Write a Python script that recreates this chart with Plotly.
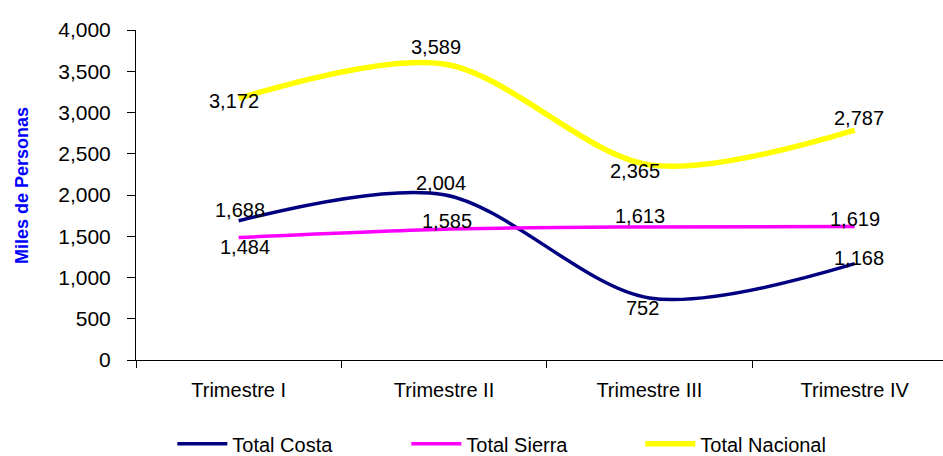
import plotly.graph_objects as go

categories = ["Trimestre I", "Trimestre II", "Trimestre III", "Trimestre IV"]
costa = [1688, 2004, 752, 1168]
sierra = [1484, 1585, 1613, 1619]
nacional = [3172, 3589, 2365, 2787]

# label offsets (pixels) relative to each point: (dx, dy up)
costa_off = [(1, 11), (-3, 12), (-7, -10), (4, 6)]
sierra_off = [(6, -9), (3, 8), (-9, 11), (0, 7)]
nacional_off = [(-5, -3), (-8, 17), (-14, -6), (4, 12)]

FONT = "Liberation Sans, Arial"

fig = go.Figure()
series = [
    ("Total Costa", costa, "#000080", 3.5, costa_off),
    ("Total Sierra", sierra, "#FF00FF", 3.5, sierra_off),
    ("Total Nacional", nacional, "#FFFF00", 5.5, nacional_off),
]
for name, vals, color, w, offs in series:
    fig.add_trace(go.Scatter(
        x=categories, y=vals, name=name, mode="lines",
        line=dict(color=color, width=w, shape="spline", smoothing=0.9),
    ))
    for c, v, (dx, dy) in zip(categories, vals, offs):
        fig.add_annotation(x=c, y=v, text=f"{v:,}", showarrow=False,
                           xshift=dx, yshift=dy,
                           font=dict(family=FONT, size=20, color="black"))

fig.add_annotation(x=0, y=0.527, xref="paper", yref="paper", xshift=-114,
                   xanchor="center", yanchor="middle",
                   text="<b>Miles de Personas</b>", textangle=-90, showarrow=False,
                   font=dict(family=FONT, size=18, color="#0000FF"))

fig.update_layout(
    width=943, height=456,
    margin=dict(l=136, r=0, t=30, b=96, autoexpand=False),
    paper_bgcolor="white", plot_bgcolor="white",
    font=dict(family=FONT, color="black"),
    showlegend=True,
    legend=dict(orientation="h", x=0.045, xanchor="left",
                yref="container", y=0.027, yanchor="middle",
                font=dict(size=20), entrywidth=169, entrywidthmode="pixels",
                itemwidth=50, traceorder="normal"),
    xaxis=dict(range=[-0.5, 3.43], showline=True, linecolor="black", linewidth=1,
               ticks="outside", ticklen=7, tickcolor="black", tickson="boundaries",
               showgrid=False, tickfont=dict(size=20), zeroline=False,
               automargin=False, ticklabelstandoff=12),
    yaxis=dict(range=[0, 4000], dtick=500, tickformat=",d", showline=True,
               linecolor="black", linewidth=1, ticks="outside", ticklen=8,
               tickcolor="black", showgrid=False, zeroline=False,
               tickfont=dict(size=21), automargin=False, ticklabelstandoff=12),
)

fig.write_html("out.html", config={"displayModeBar": False},
               post_script="document.body.style.margin='0px';document.body.style.padding='0px';")
